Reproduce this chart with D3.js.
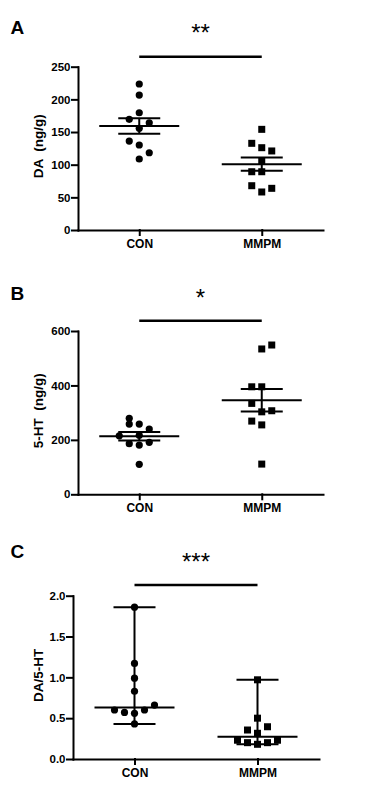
<!DOCTYPE html>
<html>
<head>
<meta charset="utf-8">
<title>DA / 5-HT</title>
<style>
  body { margin: 0; background: #fff; }
  svg { display: block; font-family: "Liberation Sans", Arial, sans-serif; }
  .axis path, .axis line { stroke: #000; stroke-width: 2; stroke-linecap: square; }
  .axis text { font-size: 11.5px; font-weight: bold; fill: #000; }
  .axis--x text { font-size: 12px; }
  .ylab { font-size: 13.5px; font-weight: bold; white-space: pre; }
</style>
</head>
<body>
<svg id="chart" width="371" height="800"></svg>
<script src="https://d3js.org/d3.v7.min.js"></script>
<script>
var groups = ["CON", "MMPM"];

// panel A: DA (ng/g)
var daCon = [223.5, 206.6, 179.5, 169.4, 164.2, 155.7, 136.2, 130.1, 118.3, 108.7];
var daConCol = [0, 0, 0, -1, 1, 0, -1, 0, 1, 0];
var daMmpm = [154.1, 132.7, 126, 121, 106, 89.2, 89.2, 67.8, 58.2, 63.8];
var daMmpmCol = [0, -1, 0, 1, 0, -1, 0, -1, 0, 1];
var daTicks = [0, 50, 100, 150, 200, 250];

// panel B: 5-HT (ng/g)
var htCon = [279, 258, 258, 240, 215, 217, 186, 181, 191, 110];
var htConCol = [-1, -1, 0, 1, -2, 0, -1, 0, 1, 0];
var htMmpm = [534, 548.5, 395, 395, 334, 303, 307, 269, 255, 111];
var htMmpmCol = [0, 1, -1, 0, -1, 0, 1, -1, 0, 0];
var htTicks = [0, 200, 400, 600];

// panel C: DA/5-HT ratio
var ratioCon = [1.86, 1.17, 0.99, 0.83, 0.66, 0.60, 0.60, 0.57, 0.56, 0.43];
var ratioConCol = [0, 0, 0, 0, 2, -2, 1, -1, 0, 0];
var ratioMmpm = [0.97, 0.50, 0.355, 0.395, 0.315, 0.23, 0.20, 0.18, 0.20, 0.23];
var ratioMmpmCol = [0, 0, -1, 1, 0, -2, -1, 0, 1, 2];
var ratioTicks = [0, 0.5, 1.0, 1.5, 2.0];

var panels = [
  { letter: "A", ylabel: "DA  (ng/g)", stars: "**", con: daCon, conCol: daConCol, mmpm: daMmpm, mmpmCol: daMmpmCol,
    ticks: daTicks, fmt: d3.format("d"), summary: "sem",
    left: 78, right: 323, top: 66.7, bottom: 230, letterY: 34, starY: 41, barY: 56.7 },
  { letter: "B", ylabel: "5-HT  (ng/g)", stars: "*", con: htCon, conCol: htConCol, mmpm: htMmpm, mmpmCol: htMmpmCol,
    ticks: htTicks, fmt: d3.format("d"), summary: "sem",
    left: 78, right: 323, top: 331, bottom: 494.3, letterY: 300, starY: 306, barY: 320.7 },
  { letter: "C", ylabel: "DA/5-HT", stars: "***", con: ratioCon, conCol: ratioConCol, mmpm: ratioMmpm, mmpmCol: ratioMmpmCol,
    ticks: ratioTicks, fmt: d3.format(".1f"), summary: "range",
    left: 73, right: 319, top: 595.7, bottom: 759, letterY: 557.5, starY: 570, barY: 585 }
];

var svg = d3.select("#chart");
var colStep = 10;

panels.forEach(function(p) {
  var g = svg.append("g");

  var x = d3.scalePoint().domain(groups).range([p.left, p.right]).padding(0.5);
  var y = d3.scaleLinear().domain([0, d3.max(p.ticks)]).range([p.bottom, p.top]);

  g.append("g")
      .attr("class", "axis axis--y")
      .attr("transform", "translate(" + p.left + ",0)")
      .call(d3.axisLeft(y).tickValues(p.ticks).tickFormat(p.fmt).tickSize(6).tickSizeOuter(0).tickPadding(1.5));

  g.append("g")
      .attr("class", "axis axis--x")
      .attr("transform", "translate(0," + p.bottom + ")")
      .call(d3.axisBottom(x).tickSize(5).tickSizeOuter(0).tickPadding(4));

  g.selectAll(".domain").attr("fill", "none");

  // y label
  g.append("text")
      .attr("class", "ylab")
      .attr("transform", "translate(43," + ((p.top + p.bottom) / 2 - 2) + ") rotate(-90)")
      .attr("text-anchor", "middle")
      .text(p.ylabel);

  // panel letter
  g.append("text")
      .attr("x", 10.5)
      .attr("y", p.letterY)
      .style("font-size", "19px")
      .style("font-weight", "bold")
      .text(p.letter);

  // significance bar + stars
  g.append("line")
      .attr("x1", x("CON")).attr("x2", x("MMPM"))
      .attr("y1", p.barY).attr("y2", p.barY)
      .attr("stroke", "#000").attr("stroke-width", 2.5);

  g.append("text")
      .attr("x", (x("CON") + x("MMPM")) / 2)
      .attr("y", p.starY)
      .attr("text-anchor", "middle")
      .style("font-size", "24px")
      .text(p.stars);

  // points
  var conPts = p.con.map(function(v, i) { return { v: v, c: p.conCol[i] }; });
  var mmPts = p.mmpm.map(function(v, i) { return { v: v, c: p.mmpmCol[i] }; });

  g.selectAll(".dot")
    .data(conPts)
    .enter().append("circle")
      .attr("class", "dot")
      .attr("cx", function(d) { return x("CON") + d.c * colStep; })
      .attr("cy", function(d) { return y(d.v); })
      .attr("r", 3.6)
      .attr("fill", "#000");

  g.selectAll(".sq")
    .data(mmPts)
    .enter().append("rect")
      .attr("class", "sq")
      .attr("x", function(d) { return x("MMPM") + d.c * colStep - 3.5; })
      .attr("y", function(d) { return y(d.v) - 3.5; })
      .attr("width", 7)
      .attr("height", 7)
      .attr("fill", "#000");

  // summary lines: mean +/- SEM (A, B) or median with range (C)
  [["CON", p.con], ["MMPM", p.mmpm]].forEach(function(s) {
    var cx = x(s[0]), vals = s[1], mid, lo, hi;
    if (p.summary == "sem") {
      mid = d3.mean(vals);
      var sem = d3.deviation(vals) / Math.sqrt(vals.length);
      lo = mid - sem; hi = mid + sem;
    } else {
      mid = d3.median(vals);
      lo = d3.min(vals); hi = d3.max(vals);
    }
    var segs = [
      [cx - 40, cx + 40, y(mid), y(mid)],
      [cx - 21, cx + 21, y(lo), y(lo)],
      [cx - 21, cx + 21, y(hi), y(hi)],
      [cx, cx, y(lo), y(hi)]
    ];
    g.selectAll(null)
      .data(segs)
      .enter().append("line")
        .attr("x1", function(d) { return d[0]; })
        .attr("x2", function(d) { return d[1]; })
        .attr("y1", function(d) { return d[2]; })
        .attr("y2", function(d) { return d[3]; })
        .attr("stroke", "#000")
        .attr("stroke-width", 2);
  });
});
</script>
</body>
</html>
